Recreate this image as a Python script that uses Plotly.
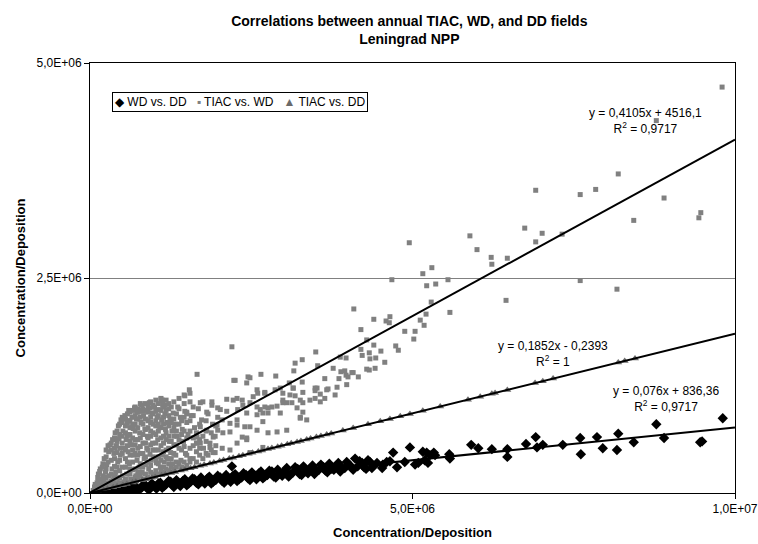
import plotly.graph_objects as go

M = 1e6  # values below are given in millions

# ---------------- data (millions) ----------------
wd_dd_x = [0.10,0.20,0.30,0.38,0.45,0.52,0.60,0.66,0.72,0.80,0.86,0.92,1.00,1.06,1.12,1.18,1.25,1.30,1.37,1.44,
           1.50,1.56,1.62,1.68,1.75,1.82,1.88,1.95,2.02,2.08,2.15,2.20,2.22,2.28,2.35,2.42,2.48,2.55,2.62,2.68,
           2.75,2.82,2.88,2.95,3.02,3.08,3.15,3.22,3.28,3.35,3.42,3.48,3.55,3.62,3.68,3.75,3.82,3.88,3.95,4.02,
           4.08,4.11,4.15,4.22,4.28,4.34,4.40,4.53,4.54,4.60,4.65,4.70,4.76,4.88,4.96,5.04,5.09,5.16,5.19,5.22,
           5.24,5.27,5.33,5.35,5.57,5.58,5.91,6.02,6.23,6.47,6.47,6.76,6.91,6.93,7.02,7.33,7.60,7.61,7.86,7.95,
           8.17,8.19,8.43,8.78,8.90,9.46,9.49,9.81,
           0.15,0.25,0.34,0.42,0.49,0.56,0.63,0.70,0.76,0.83,0.89,0.96,1.03,1.09,1.15,1.22,1.28,1.34,1.40,1.47,
           1.53,1.59,1.65,1.72,1.78,1.85,1.91,1.98,2.05,2.11,2.18,2.25,2.31,2.38,2.45,2.51,2.58,2.65,2.71,2.78,
           2.85,2.91,2.98,3.05,3.11,3.18,3.25,3.31,3.38,3.45,3.51,3.58,3.65,3.71,3.78,3.85,3.91,3.98,4.05,4.18,
           4.25,4.31,4.37,4.45]
wd_dd_y = [0.01,0.02,0.03,0.01,0.04,0.02,0.05,0.07,0.03,0.06,0.09,0.04,0.08,0.11,0.06,0.10,0.13,0.07,0.11,0.14,
           0.09,0.13,0.16,0.10,0.14,0.17,0.11,0.15,0.18,0.12,0.16,0.31,0.20,0.14,0.18,0.21,0.15,0.19,0.23,0.17,
           0.21,0.25,0.18,0.22,0.26,0.19,0.24,0.28,0.21,0.25,0.29,0.22,0.27,0.30,0.24,0.28,0.32,0.25,0.29,0.33,
           0.27,0.40,0.31,0.35,0.28,0.36,0.32,0.29,0.33,0.36,0.37,0.47,0.30,0.36,0.53,0.33,0.35,0.48,0.38,0.47,
           0.35,0.44,0.47,0.44,0.45,0.40,0.56,0.52,0.51,0.51,0.42,0.57,0.65,0.53,0.56,0.56,0.64,0.45,0.65,0.52,
           0.50,0.69,0.59,0.80,0.64,0.59,0.60,0.87,
           0.03,0.00,0.04,0.06,0.01,0.07,0.02,0.08,0.04,0.10,0.05,0.11,0.05,0.12,0.08,0.14,0.09,0.15,0.08,0.16,
           0.11,0.17,0.12,0.18,0.11,0.19,0.13,0.20,0.14,0.21,0.13,0.22,0.16,0.23,0.17,0.24,0.16,0.25,0.19,0.26,
           0.19,0.27,0.20,0.29,0.22,0.30,0.22,0.31,0.23,0.32,0.26,0.33,0.26,0.34,0.27,0.35,0.29,0.36,0.30,0.37,
           0.30,0.38,0.29,0.35]

tiac_wd_x = [
    # dense cluster near the origin
    0.05,0.08,0.10,0.12,0.14,0.15,0.18,0.19,0.21,0.22,0.23,0.24,0.26,0.27,
    0.29,0.30,0.31,0.32,0.33,0.34,0.35,0.36,0.37,
    0.39,0.40,0.41,0.42,0.43,0.44,0.45,0.46,0.47,0.48,
    0.50,0.51,0.52,0.53,0.54,0.55,0.56,0.57,0.58,0.59,
    0.60,0.61,0.62,0.63,0.64,0.65,0.66,0.67,0.68,0.69,
    0.70,0.71,0.72,0.73,0.74,0.75,0.76,0.77,0.78,0.79,
    0.80,0.81,0.82,0.83,0.84,0.85,0.86,0.87,0.88,0.89,
    0.90,0.91,0.92,0.93,0.94,0.95,0.96,0.97,0.98,0.99,
    1.00,1.01,1.02,1.03,1.04,1.05,1.06,1.07,1.08,1.09,
    1.10,1.11,1.12,1.13,1.14,1.15,1.16,1.17,1.18,1.19,
    1.20,1.22,1.23,1.24,1.25,1.27,1.28,1.29,1.30,
    1.32,1.33,1.35,1.36,1.38,1.40,1.41,1.43,1.45,1.47,1.48,1.50,
    1.52,1.55,1.57,1.60,1.62,1.65,1.68,1.70,1.73,1.76,1.80,1.83,1.86,1.90,1.94,1.98,
    0.07,0.07,0.11,0.13,0.13,0.13,0.16,0.16,0.16,0.20,0.20,0.20,
    0.25,0.25,0.25,0.25,0.25,0.28,0.28,0.28,0.33,0.33,0.33,0.33,
    0.38,0.38,0.38,0.38,0.38,0.38,0.42,0.42,0.42,0.42,0.42,
    0.46,0.46,0.46,0.46,0.46,0.46,0.50,0.50,0.50,0.50,0.50,0.50,0.50,
    0.55,0.55,0.55,0.55,0.55,0.55,0.58,0.58,0.58,0.58,0.58,
    0.62,0.62,0.62,0.62,0.62,0.62,0.62,0.66,0.66,0.66,0.66,0.66,0.66,
    0.70,0.70,0.70,0.70,0.70,0.70,0.70,0.70,0.74,0.74,0.74,0.74,0.74,0.74,0.74,
    0.78,0.78,0.78,0.78,0.78,0.78,0.78,0.82,0.82,0.82,0.82,0.82,0.82,
    0.86,0.86,0.86,0.86,0.86,0.86,0.90,0.90,0.90,0.90,0.90,0.90,0.90,
    0.94,0.94,0.94,0.94,0.94,0.94,0.94,0.98,0.98,0.98,0.98,0.98,0.98,
    1.02,1.02,1.02,1.02,1.02,1.02,1.02,1.06,1.06,1.06,1.06,1.06,1.06,1.06,
    1.10,1.10,1.10,1.10,1.10,1.10,1.14,1.14,1.14,1.14,1.14,1.14,1.14,
    1.18,1.18,1.18,1.18,1.18,1.18,1.22,1.22,1.22,1.22,1.22,1.22,1.22,
    1.26,1.26,1.26,1.26,1.26,1.30,1.30,1.30,1.30,1.30,1.30,
    1.34,1.34,1.34,1.34,1.34,1.38,1.38,1.38,1.38,1.38,1.42,1.42,1.42,1.42,
    1.46,1.46,1.46,1.46,1.46,1.50,1.50,1.50,1.50,1.55,1.55,1.55,1.55,
    1.60,1.60,1.60,1.65,1.65,1.65,1.70,1.70,1.70,1.75,1.75,1.80,1.80,1.80,
    1.88,1.88,1.95,1.95,2.05,2.05,
    # scattered points
    1.55,1.47,1.12,1.16,0.93,0.82,0.73,0.59,2.25,2.43,1.50,1.60,1.71,1.81,1.89,1.98,2.12,2.22,2.29,2.37,2.43,
    2.59,2.71,2.87,2.99,3.15,3.30,3.52,3.67,3.83,3.98,2.48,2.64,2.82,2.95,3.05,3.21,3.41,3.57,3.64,3.80,
    2.17,2.28,2.48,2.59,2.68,2.76,2.90,3.05,3.26,3.36,1.71,1.81,1.97,2.06,1.66,1.86,2.17,1.91,2.43,2.68,2.48,
    2.20,1.66,1.54,1.46,2.23,2.45,1.10,1.13,1.55,1.75,1.89,2.02,2.12,2.28,2.36,2.28,2.40,2.36,2.43,2.28,2.17,
    1.83,1.94,1.71,1.66,1.91,1.98,
    4.68,4.09,4.40,4.59,4.65,4.64,4.88,4.20,4.29,4.40,4.20,4.22,4.33,4.43,4.34,4.51,4.57,4.74,4.78,4.42,4.29,
    4.33,3.50,3.88,3.97,3.29,3.18,3.53,3.77,3.16,3.89,3.95,4.06,4.00,3.97,4.16,3.86,4.08,2.65,2.88,2.48,3.29,
    3.64,3.49,3.49,3.69,3.57,3.49,3.09,2.95,3.15,3.10,3.18,2.99,2.99,3.13,3.26,3.30,2.90,2.71,2.53,2.60,2.71,
    2.59,2.76,2.59,2.68,2.76,3.30,3.26,
    6.91,6.74,7.01,6.91,7.32,4.95,5.89,6.00,6.22,6.23,6.47,5.16,5.30,5.22,5.36,5.55,6.45,5.29,5.58,5.21,5.12,
    5.18,5.04,5.02,7.60,8.17,
    9.80,8.78,8.19,7.84,7.60,8.90,8.43,9.47,9.44]
tiac_wd_y = [
    0.03,0.10,0.05,0.18,0.09,0.25,0.06,0.30,0.15,0.40,0.08,0.24,0.33,0.12,
    0.48,0.20,0.56,0.09,0.38,0.28,0.62,0.15,0.46,
    0.70,0.24,0.55,0.11,0.36,0.78,0.63,0.18,0.44,0.85,
    0.30,0.72,0.52,0.13,0.90,0.40,0.62,0.22,0.81,0.48,
    0.96,0.34,0.68,0.16,0.56,0.88,0.27,0.75,0.44,0.99,
    0.62,0.20,0.86,0.38,0.52,0.94,0.30,0.70,0.46,0.82,
    1.02,0.24,0.58,0.90,0.40,0.74,0.33,0.96,0.52,0.66,
    0.84,0.28,1.05,0.45,0.72,0.38,0.93,0.58,0.80,0.22,
    1.00,0.50,0.68,0.35,0.88,0.62,0.42,0.97,0.76,0.30,
    0.55,0.85,0.44,1.03,0.66,0.36,0.92,0.74,0.50,0.82,
    0.40,0.98,0.60,0.86,0.47,0.72,0.34,0.93,0.56,
    0.80,0.44,0.66,1.00,0.52,0.88,0.38,0.74,0.60,0.95,0.46,0.82,
    0.68,0.40,0.90,0.55,0.76,0.48,0.98,0.62,0.85,0.52,0.72,0.92,0.58,0.80,0.66,0.88,
    0.02,0.07,0.12,0.04,0.14,0.22,0.06,0.16,0.28,0.10,0.20,0.34,
    0.07,0.18,0.28,0.42,0.50,0.10,0.36,0.55,0.14,0.22,0.50,0.58,
    0.10,0.20,0.31,0.40,0.52,0.64,0.17,0.30,0.47,0.60,0.72,
    0.12,0.26,0.38,0.52,0.68,0.80,0.10,0.20,0.46,0.58,0.66,0.82,0.88,
    0.16,0.30,0.50,0.70,0.78,0.86,0.12,0.36,0.55,0.66,0.92,
    0.22,0.28,0.44,0.60,0.76,0.84,0.94,0.14,0.36,0.50,0.64,0.80,0.96,
    0.18,0.28,0.46,0.56,0.72,0.80,0.90,1.00,0.16,0.24,0.44,0.62,0.76,0.86,0.98,
    0.20,0.34,0.54,0.64,0.88,0.96,1.04,0.16,0.30,0.46,0.68,0.80,0.98,
    0.22,0.42,0.58,0.74,0.86,1.04,0.18,0.36,0.50,0.64,0.76,0.94,1.00,
    0.24,0.32,0.56,0.66,0.82,0.88,1.06,0.20,0.42,0.50,0.70,0.92,1.02,
    0.26,0.40,0.58,0.78,0.84,0.95,1.08,0.22,0.34,0.50,0.72,0.80,0.90,1.04,
    0.26,0.38,0.64,0.76,0.96,1.10,0.24,0.30,0.48,0.58,0.80,0.88,1.00,
    0.28,0.42,0.62,0.70,0.96,1.08,0.26,0.34,0.52,0.66,0.78,0.90,1.04,
    0.30,0.40,0.60,0.82,1.00,0.28,0.46,0.66,0.76,0.86,1.06,
    0.30,0.36,0.56,0.72,0.92,0.34,0.62,0.80,0.98,1.10,0.30,0.50,0.68,0.84,
    0.36,0.54,0.72,0.88,1.04,0.32,0.44,0.64,0.92,0.36,0.52,0.72,0.84,
    0.40,0.64,0.90,0.36,0.58,0.70,0.44,0.52,0.80,0.40,0.66,0.46,0.60,0.84,
    0.50,0.70,0.55,0.78,0.52,0.85,
    1.16,1.13,1.08,1.02,0.99,0.95,0.94,0.84,1.31,1.28,0.94,1.00,1.05,0.94,1.02,0.99,0.95,1.08,0.97,1.02,0.93,
    1.20,1.16,1.20,1.16,1.22,1.17,1.22,1.20,1.23,1.26,1.05,0.97,1.00,0.93,1.05,0.99,1.08,1.06,1.10,1.14,
    0.81,0.85,0.77,0.73,0.83,0.70,0.71,0.73,0.88,0.85,0.77,0.73,0.79,0.70,0.58,0.53,0.50,0.47,0.64,0.53,0.47,
    1.70,1.38,1.20,1.14,1.31,1.35,1.09,1.03,1.06,1.06,1.06,0.97,1.09,1.10,1.08,0.79,0.77,0.65,0.62,0.58,0.71,
    0.44,0.47,0.58,0.65,0.65,0.73,
    2.48,2.14,2.02,2.00,2.05,1.98,1.88,1.90,1.78,1.72,1.67,1.60,1.63,1.57,1.56,1.65,1.52,1.71,1.66,1.45,1.44,
    1.43,1.64,1.58,1.57,1.55,1.51,1.48,1.45,1.42,1.41,1.42,1.40,1.35,1.37,1.35,1.33,1.40,1.38,1.36,1.34,1.29,
    1.33,1.22,1.19,1.21,1.15,1.10,1.28,1.22,1.22,1.14,1.13,1.08,1.05,1.05,1.08,1.05,1.01,1.17,1.12,1.16,1.00,
    1.00,0.99,0.91,0.93,0.93,0.94,0.87,
    3.52,3.08,3.02,2.92,3.01,2.91,2.99,2.83,2.74,2.66,2.73,2.55,2.62,2.41,2.43,2.48,2.24,2.22,2.10,2.08,2.01,
    1.95,1.88,1.79,2.47,2.37,
    4.72,4.33,3.71,3.53,3.47,3.43,3.17,3.26,3.20]

tiac_dd_x = [0.05,0.12,0.21,0.27,0.36,0.42,0.51,0.57,0.66,0.71,0.81,0.87,0.96,1.01,1.11,1.17,1.26,1.32,1.41,1.47,
             1.56,1.62,1.71,1.77,1.86,1.92,2.01,2.07,2.16,2.22,2.31,2.37,2.46,2.52,2.61,2.67,2.76,2.82,2.91,2.97,
             3.06,3.12,3.21,3.27,3.36,3.42,3.51,3.58,3.67,3.74,3.92,4.08,4.31,4.50,4.65,4.81,4.96,5.16,5.43,5.86,
             6.05,6.23,6.28,6.47,6.90,7.02,7.18,8.19,8.29,8.45]
tiac_dd_y = [0.009,0.022,0.039,0.050,0.067,0.078,0.094,0.106,0.122,0.131,0.150,0.161,0.178,0.187,0.206,0.217,
             0.233,0.244,0.261,0.272,0.289,0.300,0.317,0.328,0.344,0.356,0.372,0.383,0.400,0.411,0.428,0.439,
             0.456,0.467,0.483,0.494,0.511,0.522,0.539,0.550,0.567,0.578,0.594,0.606,0.622,0.633,0.650,0.663,
             0.680,0.693,0.726,0.756,0.798,0.833,0.861,0.891,0.919,0.956,1.006,1.085,1.120,1.154,1.163,1.198,
             1.278,1.300,1.330,1.517,1.535,1.565]

# linear trendlines: slope, intercept (as printed on the chart)
trend_slope = [0.076, 0.4105, 0.1852]
trend_icpt = [836.36, 4516.1, -0.2393]
trend_x = [0.0, 1.0e7]

eq_text = ["y = 0,4105x + 4516,1<br>R<sup>2</sup> = 0,9717",
           "y = 0,1852x - 0,2393<br>R<sup>2</sup> = 1",
           "y = 0,076x + 836,36<br>R<sup>2</sup> = 0,9717"]

series_names = ["WD vs. DD", "TIAC vs. WD", "TIAC vs. DD"]
series_colors = ["#000000", "#808080", "#6a6a6a"]
series_glyphs = ["\u25C6", "\u25AA", "\u25B2"]

x_ticks = [0, 5e6, 1e7]
x_tick_text = ["0,0E+00", "5,0E+06", "1,0E+07"]
y_ticks = [0, 2.5e6, 5e6]
y_tick_text = ["0,0E+00", "2,5E+06", "5,0E+06"]

# ---------------- figure ----------------
FONT = "Liberation Sans, Arial, sans-serif"
fig = go.Figure()

fig.add_trace(go.Scatter(x=[v * M for v in wd_dd_x], y=[v * M for v in wd_dd_y], mode="markers",
                         name=series_names[0], showlegend=False,
                         marker=dict(symbol="diamond", size=8, color=series_colors[0], line=dict(width=0))))
fig.add_trace(go.Scatter(x=[v * M for v in tiac_wd_x], y=[v * M for v in tiac_wd_y], mode="markers",
                         name=series_names[1], showlegend=False,
                         marker=dict(symbol="square", size=5, color=series_colors[1], line=dict(width=0))))
fig.add_trace(go.Scatter(x=[v * M for v in tiac_dd_x], y=[v * M for v in tiac_dd_y], mode="markers",
                         name=series_names[2], showlegend=False,
                         marker=dict(symbol="triangle-up", size=7, color=series_colors[2], line=dict(width=0))))

for s, c in zip(trend_slope, trend_icpt):
    fig.add_trace(go.Scatter(x=trend_x, y=[s * xv + c for xv in trend_x], mode="lines",
                             line=dict(color="#000000", width=2), showlegend=False, hoverinfo="skip"))

ann_pos = [(0.862, 0.865), (0.718, 0.323), (0.893, 0.219)]
for t, (ax, ay) in zip(eq_text, ann_pos):
    fig.add_annotation(text=t, x=ax, y=ay, xref="paper", yref="paper", showarrow=False,
                       xanchor="center", yanchor="middle", align="center",
                       font=dict(family=FONT, size=12, color="#000000"))

# legend box (Excel-style, compact)
legend_text = "&nbsp;&nbsp;&nbsp;".join(
    f'<span style="color:{c}">{g}</span> {n}' for g, c, n in zip(series_glyphs, series_colors, series_names))
fig.add_annotation(text=legend_text, x=0.034, y=0.933, xref="paper", yref="paper",
                   xanchor="left", yanchor="top", showarrow=False, align="left",
                   bgcolor="white", bordercolor="#000000", borderwidth=1, borderpad=2,
                   font=dict(family=FONT, size=12, color="#000000"))

fig.update_layout(
    width=758, height=544,
    margin=dict(l=90, r=23, t=63, b=51, autoexpand=False),
    paper_bgcolor="white", plot_bgcolor="white",
    font=dict(family=FONT, size=12, color="#000000"),
    title=dict(text="<b>Correlations between annual TIAC, WD, and DD fields<br>Leningrad NPP</b>",
               x=0.54, xanchor="center", y=0.953, yanchor="middle",
               font=dict(family=FONT, size=14, color="#000000")),
    showlegend=False,
)
fig.update_xaxes(range=[0, 1e7], tickvals=x_ticks, ticktext=x_tick_text, automargin=False,
                 showgrid=False, zeroline=False, showline=True, linecolor="#000000", linewidth=1,
                 mirror=True, ticks="outside", ticklen=5, tickcolor="#000000",
                 tickfont=dict(family=FONT, size=12),
                 title=dict(text="<b>Concentration/Deposition</b>", standoff=12,
                            font=dict(family=FONT, size=13)))
fig.update_yaxes(range=[0, 5e6], tickvals=y_ticks, ticktext=y_tick_text, automargin=False,
                 showgrid=True, gridcolor="#808080", gridwidth=1, zeroline=False,
                 showline=True, linecolor="#000000", linewidth=1,
                 mirror=True, ticks="outside", ticklen=5, tickcolor="#000000",
                 tickfont=dict(family=FONT, size=12),
                 title=dict(text="<b>Concentration/Deposition</b>", standoff=8,
                            font=dict(family=FONT, size=13)))

fig.write_html("out.html", config={"displayModeBar": False},
               post_script="document.body.style.margin='0px';")
